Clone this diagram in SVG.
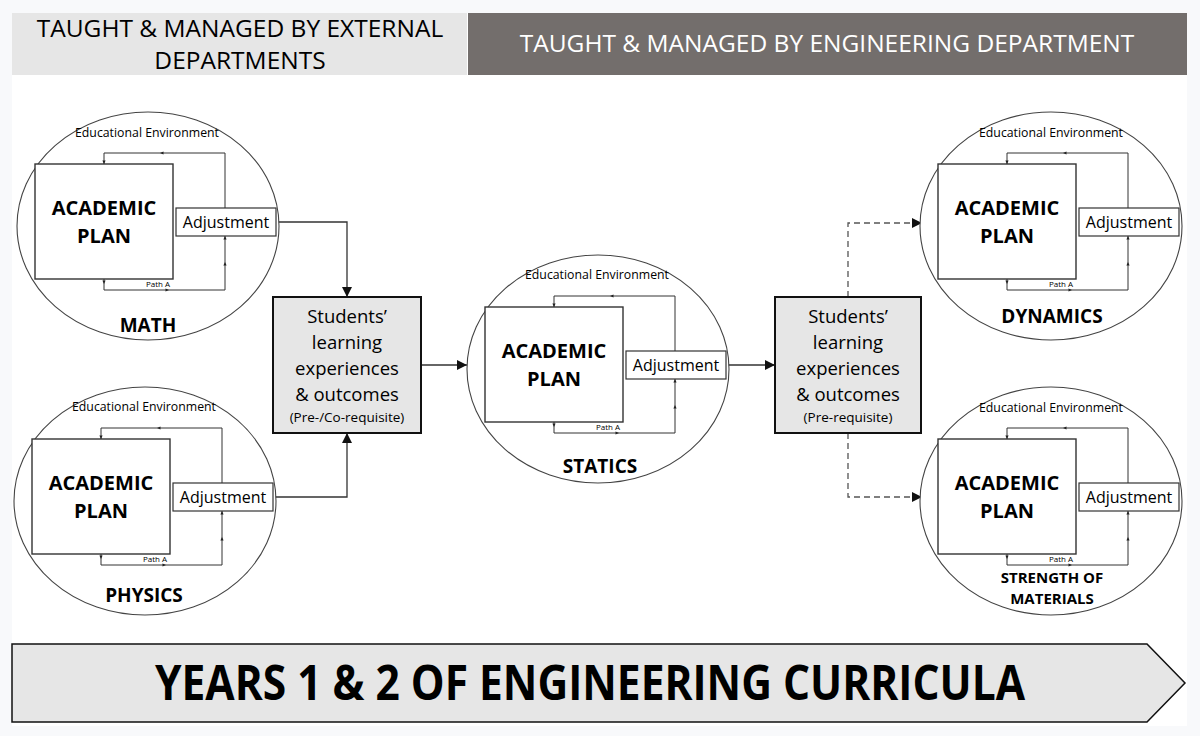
<svg xmlns="http://www.w3.org/2000/svg" xmlns:xlink="http://www.w3.org/1999/xlink" width="1200" height="736" viewBox="0 0 1200 736">
<defs>
<style>
.bg{fill:#f8f9fb}
.ee{font-family:"Open Sans","Liberation Sans",sans-serif;font-size:12.3px;fill:#000;text-anchor:middle}
.ap{font-family:"Open Sans","Liberation Sans",sans-serif;font-size:20px;font-weight:bold;fill:#000;text-anchor:middle}
.adj{font-family:"Open Sans","Liberation Sans",sans-serif;font-size:16px;fill:#000;text-anchor:middle}
.pa{font-family:"Open Sans","Liberation Sans",sans-serif;font-size:8px;fill:#000;text-anchor:middle}
.lbl{font-family:"Open Sans","Liberation Sans",sans-serif;font-size:19px;font-weight:bold;fill:#000;text-anchor:middle}
.lbl2{font-family:"Open Sans","Liberation Sans",sans-serif;font-size:15px;font-weight:bold;fill:#000;text-anchor:middle}
.st{font-family:"Open Sans","Liberation Sans",sans-serif;font-size:18.5px;fill:#000;text-anchor:middle}
.stsm{font-family:"Open Sans","Liberation Sans",sans-serif;font-size:13.5px;fill:#000;text-anchor:middle}
.hd{font-family:"Open Sans","Liberation Sans",sans-serif;font-size:24.5px;text-anchor:middle}
.ell{fill:#fff;stroke:#444;stroke-width:1.1}
.plan{fill:#fff;stroke:#333;stroke-width:1.4}
.adjbox{fill:#fff;stroke:#333;stroke-width:1.2}
.loop{fill:none;stroke:#333;stroke-width:1}
.sbox{fill:#e6e6e6;stroke:#111;stroke-width:2}
.con{fill:none;stroke:#333;stroke-width:1.3}
.dash{fill:none;stroke:#555;stroke-width:1.3;stroke-dasharray:6 4}
.tri{fill:#222}
</style>
<marker id="ah" viewBox="0 0 10 10" refX="10" refY="5" markerWidth="10" markerHeight="10" markerUnits="userSpaceOnUse" orient="auto">
<path d="M0,0 L10,5 L0,10 z" fill="#111"/>
</marker>
<path id="tl" class="tri" d="M-2,0 L1.5,-1.6 L1.5,1.6 z"/>
<path id="tr" class="tri" d="M2,0 L-1.5,-1.6 L-1.5,1.6 z"/>
<path id="tu" class="tri" d="M0,-2 L-1.6,1.5 L1.6,1.5 z"/>
<path id="td" class="tri" d="M0,2 L-1.6,-1.5 L1.6,-1.5 z"/>
<g id="module">
<ellipse class="ell" cx="113" cy="62" rx="131" ry="114"/>
<rect class="plan" x="0" y="0" width="138" height="115"/>
<path class="loop" d="M190,44 V-11 H69 V0"/>
<path class="loop" d="M69,115 V126 H190 V72"/>
<use xlink:href="#tl" x="127" y="-11"/>
<use xlink:href="#td" x="69" y="-2"/>
<use xlink:href="#td" x="69" y="118"/>
<use xlink:href="#tr" x="132" y="126"/>
<use xlink:href="#tu" x="190" y="100"/>
<use xlink:href="#tu" x="190" y="74"/>
<rect class="adjbox" x="141" y="44" width="100" height="28"/>
<text class="adj" x="191" y="64">Adjustment</text>
<text class="ap" x="69" y="51">ACADEMIC</text>
<text class="ap" x="69" y="79">PLAN</text>
<text class="pa" x="123" y="123">Path A</text>
</g>
</defs>
<rect class="bg" x="0" y="0" width="1200" height="736"/>
<rect x="12" y="13" width="1175" height="713" fill="#fff"/>
<g id="header-external">
<rect x="12" y="13" width="455" height="62" fill="#e6e6e6"/>
<text class="hd" x="240" y="37" fill="#000">TAUGHT &amp; MANAGED BY EXTERNAL</text>
<text class="hd" x="240" y="69" fill="#000">DEPARTMENTS</text>
</g>
<g id="header-engineering">
<rect x="468" y="13" width="719" height="62" fill="#736e6c"/>
<text class="hd" x="827" y="52" fill="#fff">TAUGHT &amp; MANAGED BY ENGINEERING DEPARTMENT</text>
</g>
<g id="connectors">
<path class="con" d="M276,222 H347 V297" marker-end="url(#ah)"/>
<path class="con" d="M273,497 H347 V433" marker-end="url(#ah)"/>
<path class="con" d="M421,365 H467" marker-end="url(#ah)"/>
<path class="con" d="M726,365 H775" marker-end="url(#ah)"/>
<path class="dash" d="M848,297 V223 H922" marker-end="url(#ah)"/>
<path class="dash" d="M848,433 V497 H922" marker-end="url(#ah)"/>
</g>
<g id="math">
<use xlink:href="#module" transform="translate(35,164)"/>
<text class="ee" x="147" y="137">Educational Environment</text>
<text class="lbl" x="148" y="332">MATH</text>
</g>
<g id="physics">
<use xlink:href="#module" transform="translate(32,439)"/>
<text class="ee" x="144" y="411">Educational Environment</text>
<text class="lbl" x="144" y="602">PHYSICS</text>
</g>
<g id="statics">
<use xlink:href="#module" transform="translate(485,307)"/>
<text class="ee" x="597" y="279">Educational Environment</text>
<text class="lbl" x="600" y="473">STATICS</text>
</g>
<g id="dynamics">
<use xlink:href="#module" transform="translate(938,164)"/>
<text class="ee" x="1051" y="137">Educational Environment</text>
<text class="lbl" x="1052" y="323">DYNAMICS</text>
</g>
<g id="strength">
<use xlink:href="#module" transform="translate(938,439)"/>
<text class="ee" x="1051" y="412">Educational Environment</text>
<text class="lbl2" x="1052" y="583">STRENGTH OF</text>
<text class="lbl2" x="1052" y="604">MATERIALS</text>
</g>
<g id="outcomes-1">
<rect class="sbox" x="273" y="297" width="148" height="136"/>
<text class="st" x="347" y="323">Students’</text>
<text class="st" x="347" y="349">learning</text>
<text class="st" x="347" y="375">experiences</text>
<text class="st" x="347" y="401">&amp; outcomes</text>
<text class="stsm" x="347" y="422">(Pre-/Co-requisite)</text>
</g>
<g id="outcomes-2">
<rect class="sbox" x="775" y="297" width="146" height="136"/>
<text class="st" x="848" y="323">Students’</text>
<text class="st" x="848" y="349">learning</text>
<text class="st" x="848" y="375">experiences</text>
<text class="st" x="848" y="401">&amp; outcomes</text>
<text class="stsm" x="848" y="422">(Pre-requisite)</text>
</g>
<g id="years-arrow">
<path d="M12,644 H1147 L1185,683 L1147,722 H12 Z" fill="#e6e6e6" stroke="#111" stroke-width="1.5"/>
<text x="590" y="700" font-family="Open Sans, Liberation Sans, sans-serif" font-size="48" font-weight="bold" fill="#000" text-anchor="middle" textLength="870" lengthAdjust="spacingAndGlyphs">YEARS 1 &amp; 2 OF ENGINEERING CURRICULA</text>
</g>
</svg>
